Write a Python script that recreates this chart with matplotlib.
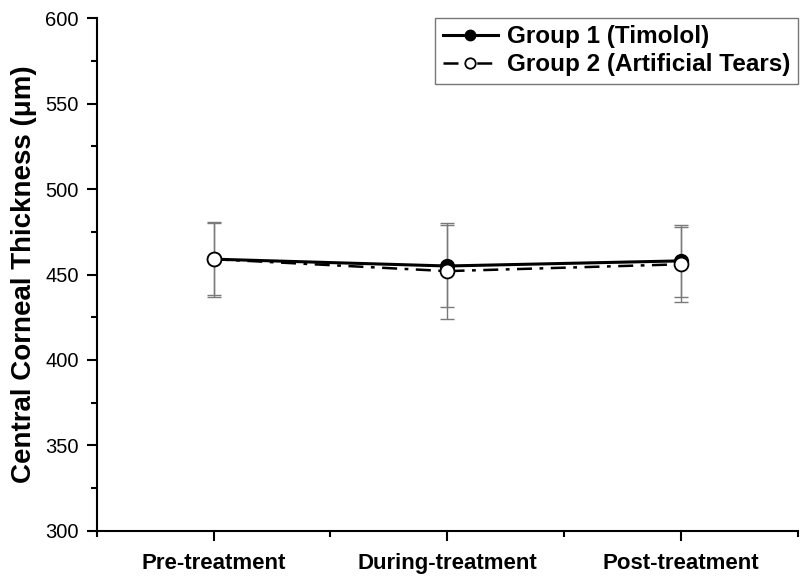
import numpy as np
import matplotlib.pyplot as plt
from matplotlib.ticker import MultipleLocator, FixedLocator

plt.rcParams['font.family'] = ['Liberation Sans', 'DejaVu Sans']

# dados
fases = ["Pre-treatment", "During-treatment", "Post-treatment"]
grupo1 = [459, 455, 458]
erro1 = [21, 24, 21]
grupo2 = [459, 452, 456]
erro2 = [22, 28, 22]

x = np.arange(1, len(fases) + 1)

fig = plt.figure(figsize=(8, 5.86), dpi=100)
ax = fig.add_axes([0.121, 0.094, 0.876, 0.875])

# barras de erro (cinza)
ax.errorbar(x, grupo1, yerr=erro1, fmt='none', ecolor='#7a7a7a', elinewidth=1.0,
            capsize=5, capthick=1.0, zorder=2)
ax.errorbar(x, grupo2, yerr=erro2, fmt='none', ecolor='#7a7a7a', elinewidth=1.0,
            capsize=5, capthick=1.0, zorder=2)

ax.plot(x, grupo1, color='black', lw=2.2, ls='-', marker='o', markersize=10,
        markerfacecolor='black', markeredgecolor='black', label='Group 1 (Timolol)', zorder=3)
ax.plot(x, grupo2, color='black', lw=1.8, ls=(0, (6, 3, 1.5, 3)), marker='o', markersize=10,
        markerfacecolor='white', markeredgecolor='black', markeredgewidth=1.3,
        label='Group 2 (Artificial Tears)', zorder=4)

ax.set_xlim(0.5, 3.5)
ax.set_ylim(300, 600)
ax.yaxis.set_major_locator(MultipleLocator(50))
ax.yaxis.set_minor_locator(MultipleLocator(25))
ax.xaxis.set_major_locator(FixedLocator(x))
ax.xaxis.set_minor_locator(FixedLocator([0.5, 1.5, 2.5, 3.5]))
ax.set_xticklabels(fases, fontsize=16, fontweight='bold')

ax.tick_params(axis='both', which='major', direction='out', length=7, width=1.5)
ax.tick_params(axis='both', which='minor', direction='out', length=4, width=1.5)
ax.tick_params(axis='x', which='major', pad=9)
ax.tick_params(axis='y', which='major', labelsize=14.5, pad=6)

ax.spines['top'].set_visible(False)
ax.spines['right'].set_visible(False)
ax.spines['left'].set_linewidth(1.5)
ax.spines['bottom'].set_linewidth(1.5)

ax.set_ylabel('Central Corneal Thickness (\u03bcm)', fontsize=20, fontweight='bold', labelpad=6)

leg = ax.legend(loc='upper right', prop={'weight': 'bold', 'size': 17.5},
                frameon=True, fancybox=False, edgecolor='#555555', handlelength=2.3,
                borderpad=0.3, labelspacing=0.2, handletextpad=0.35, markerscale=0.75,
                borderaxespad=0.0, bbox_to_anchor=(1.0, 1.0))
leg.get_frame().set_linewidth(1.0)

fig.savefig('out.png', dpi=100)
